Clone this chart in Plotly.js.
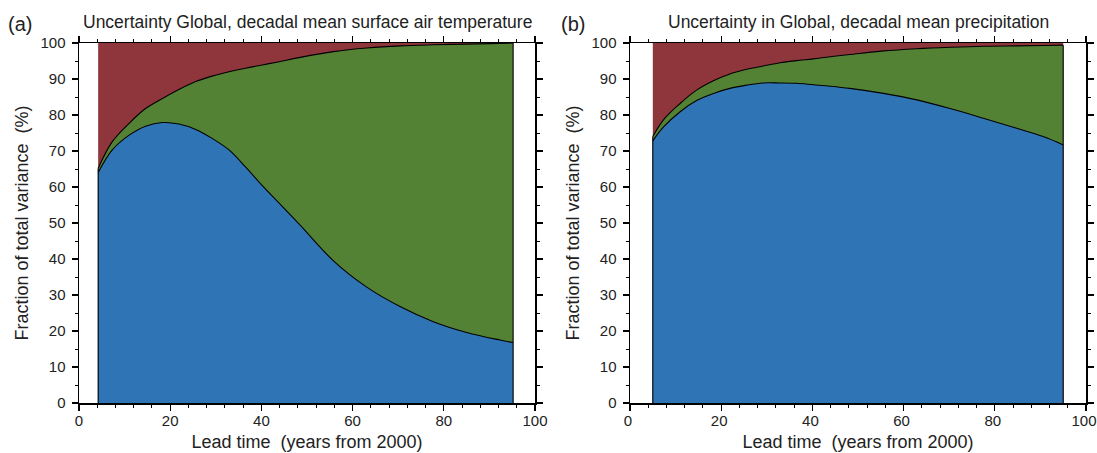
<!DOCTYPE html>
<html>
<head>
<meta charset="utf-8">
<script src="https://cdn.plot.ly/plotly-3.0.1.min.js"></script>
<style>
  html, body { margin: 0; padding: 0; background: #fff; }
  #chart { width: 1097px; height: 453px; }
</style>
</head>
<body>
<div id="chart"></div>
<script>
// Fraction of total variance (%) in global decadal means, by source.
// Model uncertainty (blue) and scenario uncertainty (green) per lead time;
// the remainder up to 100 % is internal variability (red).

// (a) surface air temperature
const tempLead = [4.2, 7.3, 11, 14.6, 18.3, 21.9, 25.6, 29.2, 32.9, 36.5, 40.2, 43.9, 48.5, 55.8, 63.1, 70.4, 77.7, 85.0, 92.3, 95.2];
const tempModel = [64.0, 70.3, 74.4, 76.9, 77.9, 77.5, 76.0, 73.5, 70.3, 65.6, 60.4, 55.5, 49.4, 39.5, 32.2, 26.8, 22.6, 19.6, 17.5, 16.8];
const tempScenario = [1.2, 2.3, 3.3, 4.9, 6.7, 9.6, 13.3, 17.3, 21.7, 27.4, 33.5, 39.3, 46.6, 58.1, 66.4, 72.4, 76.9, 80.1, 82.4, 83.2];

// (b) precipitation
const precLead = [5.0, 7.3, 11, 14.6, 18.3, 21.9, 25.6, 29.2, 32.9, 36.5, 40.2, 43.9, 48.2, 55.6, 62.9, 70.2, 77.5, 84.8, 90.6, 95.0];
const precModel = [72.8, 76.6, 80.9, 84.0, 86.0, 87.4, 88.3, 88.9, 88.9, 88.8, 88.4, 88.0, 87.4, 86.0, 84.2, 81.8, 79.1, 76.3, 74.0, 71.7];
const precScenario = [1.2, 2.0, 2.3, 2.9, 3.5, 4.0, 4.4, 4.7, 5.6, 6.3, 7.2, 8.2, 9.4, 11.8, 14.2, 17.0, 20.0, 22.9, 25.3, 27.7];

const panelTitles = [
  "Uncertainty Global, decadal mean surface air temperature",
  "Uncertainty in Global, decadal mean precipitation"
];
const panelLabels = ["(a)", "(b)"];
const xTitle = "Lead time  (years from 2000)";
const yTitle = "Fraction of total variance  (%)";

const COLORS = { internal: "#8f353c", scenario: "#548235", model: "#2f75b6" };
const FONT = "'Liberation Sans', Arial, sans-serif";
const TEXT = "#222";

// Area filled down to zero under a smooth boundary curve.
function area(lead, top, color, xa, ya, outline) {
  return {
    x: lead, y: top, xaxis: xa, yaxis: ya,
    type: "scatter", mode: "lines", fill: "tozeroy",
    fillcolor: color,
    line: { color: outline ? "#000" : color, width: outline ? 1.1 : 0, shape: "spline", smoothing: 1 },
    hoverinfo: "skip", showlegend: false
  };
}

// Vertical outline at one end of the stacked areas.
function edge(x, top, xa, ya) {
  return {
    x: [x, x], y: [0, top], xaxis: xa, yaxis: ya,
    type: "scatter", mode: "lines",
    line: { color: "#000", width: 1.1 },
    hoverinfo: "skip", showlegend: false
  };
}

function panelTraces(lead, model, scenario, xa, ya) {
  const upper = model.map((m, i) => m + scenario[i]);
  const full = lead.map(() => 100);
  const n = lead.length - 1;
  return [
    area(lead, full, COLORS.internal, xa, ya, false),
    area(lead, upper, COLORS.scenario, xa, ya, true),
    area(lead, model, COLORS.model, xa, ya, true),
    edge(lead[0], upper[0], xa, ya),
    edge(lead[n], upper[n], xa, ya)
  ];
}

const traces = []
  .concat(panelTraces(tempLead, tempModel, tempScenario, "x", "y"))
  .concat(panelTraces(precLead, precModel, precScenario, "x2", "y2"));

const W = 1097, H = 453;
const yDom = [50 / H, 410 / H];
const xDomA = [79 / W, 535 / W];
const xDomB = [630 / W, 1086 / W];

function xAxis(domain, anchor, shift) {
  return {
    domain: domain, anchor: anchor, range: [0, 100], fixedrange: true,
    tickvals: [0, 20, 40, 60, 80, 100], ticks: "outside", ticklen: 6, tickwidth: 1.2,
    tickcolor: "#000", mirror: "ticks", showline: true, linecolor: "#000", linewidth: 1.5,
    showgrid: false, zeroline: false, ticklabeloverflow: "allow",
    ticklabelstandoff: -3, ticklabelshift: shift,
    minor: { dtick: 4, ticks: "outside", ticklen: 3, tickwidth: 1, tickcolor: "#000", showgrid: false },
    tickfont: { family: FONT, size: 15, color: TEXT },
    title: { text: xTitle, font: { family: FONT, size: 18, color: TEXT }, standoff: 8 }
  };
}
function yAxis(anchor) {
  return {
    domain: yDom, anchor: anchor, range: [0, 100], fixedrange: true,
    tickvals: [0, 10, 20, 30, 40, 50, 60, 70, 80, 90, 100], ticks: "outside", ticklen: 6, tickwidth: 1.2,
    tickcolor: "#000", mirror: "ticks", showline: true, linecolor: "#000", linewidth: 1.5,
    showgrid: false, zeroline: false, ticklabeloverflow: "allow", ticklabelstandoff: 3,
    minor: { dtick: 5, ticks: "outside", ticklen: 3, tickwidth: 1, tickcolor: "#000", showgrid: false },
    tickfont: { family: FONT, size: 15, color: TEXT },
    title: { text: yTitle, font: { family: FONT, size: 18, color: TEXT }, standoff: 7 }
  };
}

const annotations = [];
[xDomA, xDomB].forEach((dom, i) => {
  annotations.push({
    text: panelTitles[i], xref: "paper", yref: "paper",
    x: (dom[0] + dom[1]) / 2, y: 1 - 22 / H, xanchor: "center", yanchor: "middle",
    showarrow: false, font: { family: FONT, size: 17.5, color: TEXT }
  });
});
annotations.push({
  text: panelLabels[0], xref: "paper", yref: "paper", x: 20 / W, y: 1 - 24 / H,
  xanchor: "center", yanchor: "middle", showarrow: false,
  font: { family: FONT, size: 20, color: TEXT }
});
annotations.push({
  text: panelLabels[1], xref: "paper", yref: "paper", x: 573 / W, y: 1 - 24 / H,
  xanchor: "center", yanchor: "middle", showarrow: false,
  font: { family: FONT, size: 20, color: TEXT }
});

const layout = {
  width: W, height: H,
  margin: { l: 0, r: 0, t: 0, b: 0 },
  paper_bgcolor: "#fff", plot_bgcolor: "#fff",
  showlegend: false,
  xaxis: xAxis(xDomA, "y", 0),
  yaxis: yAxis("x"),
  xaxis2: xAxis(xDomB, "y2", -2),
  yaxis2: yAxis("x2"),
  annotations: annotations
};

Plotly.newPlot("chart", traces, layout, { staticPlot: true, displayModeBar: false });
</script>
</body>
</html>
